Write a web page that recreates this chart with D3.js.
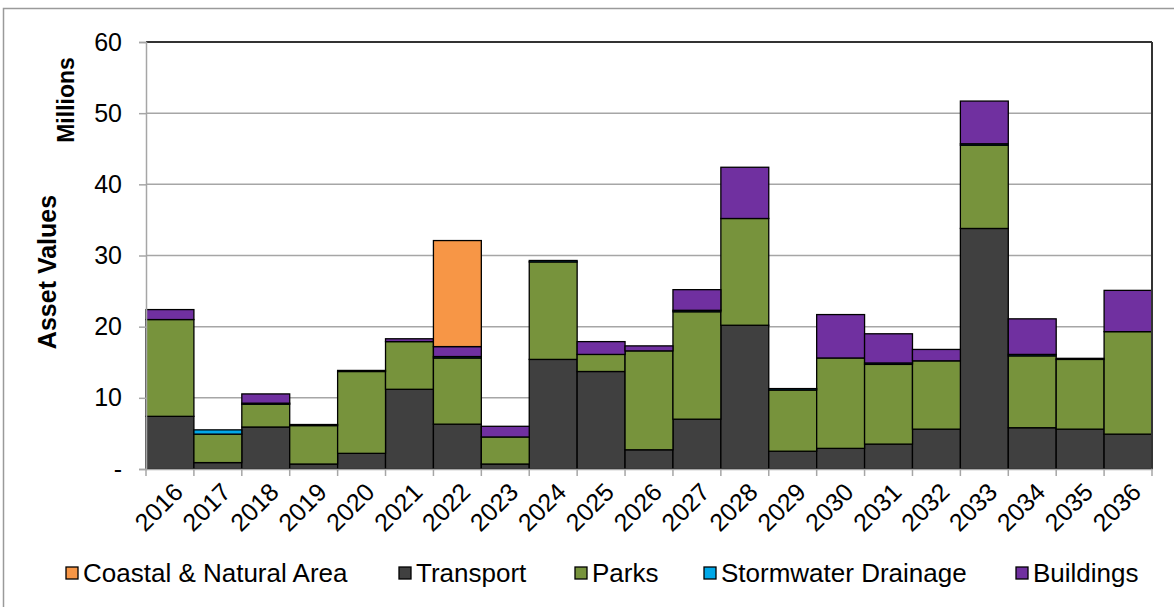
<!DOCTYPE html>
<html>
<head>
<meta charset="utf-8">
<script src="https://cdn.jsdelivr.net/npm/d3@7"></script>
<style>
  body { margin: 0; background: #fff; }
  text { font-family: "Liberation Sans", Arial, sans-serif; fill: #000; }
</style>
</head>
<body>
<div id="chart"></div>
<script>
// values in millions
var years = ["2016","2017","2018","2019","2020","2021","2022","2023","2024","2025","2026",
             "2027","2028","2029","2030","2031","2032","2033","2034","2035","2036"]
var transport  = [7.4, 0.9, 5.9, 0.7, 2.2, 11.2, 6.3, 0.7, 15.4, 13.7, 2.7, 7.0, 20.2, 2.5, 2.9, 3.5, 5.6, 33.8, 5.8, 5.6, 4.9]
var parks      = [13.6, 4.0, 3.2, 5.4, 11.5, 6.7, 9.3, 3.8, 13.7, 2.4, 13.9, 15.1, 15.0, 8.6, 12.7, 11.2, 9.6, 11.7, 10.1, 9.8, 14.4]
var stormwater = [0, 0.6, 0.15, 0.15, 0.15, 0, 0.2, 0, 0.2, 0, 0, 0.2, 0, 0.2, 0, 0.2, 0, 0.2, 0.2, 0.15, 0]
var buildings  = [1.4, 0, 1.3, 0, 0, 0.4, 1.4, 1.5, 0, 1.8, 0.7, 2.9, 7.2, 0, 6.1, 4.1, 1.6, 6.0, 5.0, 0, 5.8]
var coastal    = [0, 0, 0, 0, 0, 0, 14.9, 0, 0, 0, 0, 0, 0, 0, 0, 0, 0, 0, 0, 0, 0]
var yTicks = [0, 10, 20, 30, 40, 50, 60]

// stack order bottom to top, legend order differs
var stackKeys = ["Transport", "Parks", "Stormwater Drainage", "Buildings", "Coastal & Natural Area"]
var legendKeys = ["Coastal & Natural Area", "Transport", "Parks", "Stormwater Drainage", "Buildings"]
var colors = {
  "Coastal & Natural Area": "#F79646",
  "Transport": "#404040",
  "Parks": "#77933C",
  "Stormwater Drainage": "#00A8E8",
  "Buildings": "#7030A0"
}

var table = years.map(function(y, i) {
  return {
    year: y,
    "Transport": transport[i],
    "Parks": parks[i],
    "Stormwater Drainage": stormwater[i],
    "Buildings": buildings[i],
    "Coastal & Natural Area": coastal[i]
  }
})

var W = 1174, H = 607
var margin = {top: 42, right: 22, bottom: 138, left: 146}
var width = W - margin.left - margin.right
var height = H - margin.top - margin.bottom

var svg = d3.select("#chart").append("svg")
    .attr("width", W)
    .attr("height", H)

// outer chart border
svg.append("rect")
    .attr("x", 3.5).attr("y", 8.5)
    .attr("width", W + 10).attr("height", H + 10)
    .attr("fill", "none")
    .attr("stroke", "#9a9a9a")
    .attr("stroke-width", 1.5)

var g = svg.append("g")
    .attr("transform", "translate(" + margin.left + "," + margin.top + ")")

var x = d3.scaleBand()
    .domain(years)
    .range([0, width])
    .padding(0)

var y = d3.scaleLinear()
    .domain([0, 60])
    .range([height, 0])

// gridlines
g.append("g")
  .selectAll("line")
  .data(yTicks.filter(function(d) { return d > 0 && d < 60 }))
  .enter().append("line")
    .attr("x1", 0).attr("x2", width)
    .attr("y1", function(d) { return y(d) })
    .attr("y2", function(d) { return y(d) })
    .attr("stroke", "#a6a6a6")
    .attr("stroke-width", 1.5)

// stacked bars
var stack = d3.stack().keys(stackKeys)
var series = stack(table)

g.append("g")
  .selectAll("g")
  .data(series)
  .enter().append("g")
    .attr("fill", function(d) { return colors[d.key] })
  .selectAll("rect")
  .data(function(d) { return d.filter(function(p) { return p[1] - p[0] > 0 }) })
  .enter().append("rect")
    .attr("x", function(d) { return x(d.data.year) })
    .attr("y", function(d) { return y(d[1]) })
    .attr("width", x.bandwidth())
    .attr("height", function(d) { return y(d[0]) - y(d[1]) })
    .attr("stroke", "#000")
    .attr("stroke-width", 1.3)

// plot frame: dark top and right, grey axes left and bottom
g.append("line")
    .attr("x1", 0).attr("x2", width)
    .attr("y1", 0).attr("y2", 0)
    .attr("stroke", "#333").attr("stroke-width", 2)
g.append("line")
    .attr("x1", width).attr("x2", width)
    .attr("y1", 0).attr("y2", height)
    .attr("stroke", "#333").attr("stroke-width", 2)

var yAxis = g.append("g")
    .call(d3.axisLeft(y).tickValues(yTicks).tickSize(7).tickPadding(17)
      .tickFormat(function(d) { return d === 0 ? "-" : d }))
yAxis.select(".domain").attr("stroke", "#a6a6a6").attr("stroke-width", 1.5)
yAxis.selectAll(".tick line").attr("stroke", "#a6a6a6").attr("stroke-width", 1.5)
yAxis.selectAll(".tick text").style("font-size", "25px")

var xAxis = g.append("g")
    .attr("transform", "translate(0," + height + ")")
    .call(d3.axisBottom(x).tickSize(0).tickFormat(""))
xAxis.select(".domain").attr("stroke", "#a6a6a6").attr("stroke-width", 1.5)

// tick marks between categories
g.append("g")
  .selectAll("line")
  .data(d3.range(years.length + 1))
  .enter().append("line")
    .attr("x1", function(i) { return i * x.step() })
    .attr("x2", function(i) { return i * x.step() })
    .attr("y1", height).attr("y2", height + 7)
    .attr("stroke", "#a6a6a6").attr("stroke-width", 1.5)

// rotated year labels
g.append("g")
  .selectAll("text")
  .data(years)
  .enter().append("text")
    .attr("text-anchor", "end")
    .attr("transform", function(d) {
      return "translate(" + (x(d) + x.bandwidth() / 2 + 2) + "," + (height + 12) + ") rotate(-45)"
    })
    .attr("dy", "0.71em")
    .style("font-size", "25px")
    .text(function(d) { return d })

// axis titles
svg.append("text")
    .attr("transform", "translate(56,272) rotate(-90)")
    .attr("text-anchor", "middle")
    .style("font-size", "25px")
    .style("font-weight", "bold")
    .text("Asset Values")

svg.append("text")
    .attr("transform", "translate(74,100) rotate(-90)")
    .attr("text-anchor", "middle")
    .style("font-size", "23px")
    .style("font-weight", "bold")
    .text("Millions")

// legend
var legendX = [66, 399, 575, 704, 1016]
var legend = svg.append("g")
  .selectAll("g")
  .data(legendKeys)
  .enter().append("g")
    .attr("transform", function(d, i) { return "translate(" + legendX[i] + ",573)" })

legend.append("rect")
    .attr("x", 0).attr("y", -6)
    .attr("width", 12).attr("height", 12)
    .attr("fill", function(d) { return colors[d] })
    .attr("stroke", "#000")
    .attr("stroke-width", 1.3)

legend.append("text")
    .attr("x", 17)
    .attr("dy", "0.36em")
    .style("font-size", "26px")
    .text(function(d) { return d })
</script>
</body>
</html>
